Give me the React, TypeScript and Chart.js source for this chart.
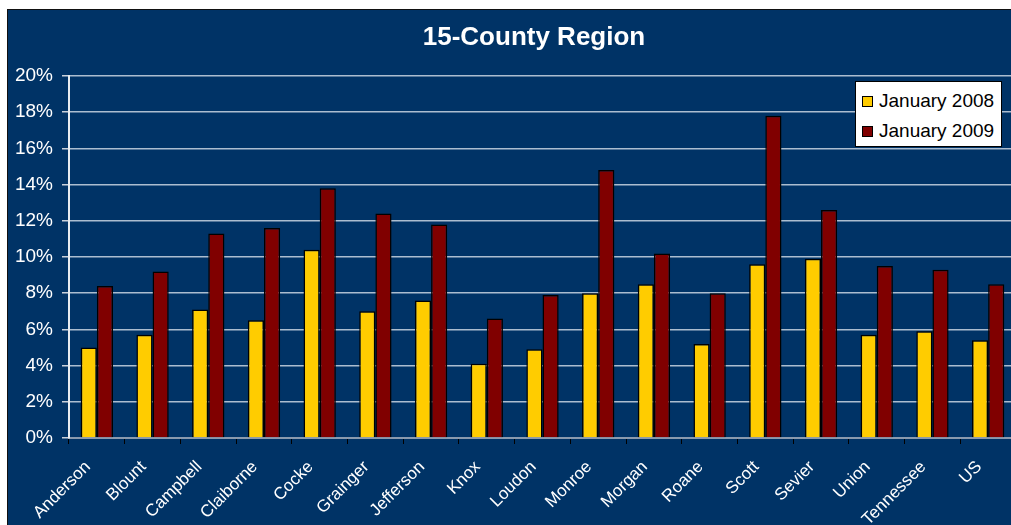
import React, { useEffect, useRef } from "react";
import { Chart, registerables } from "chart.js";

Chart.register(...registerables);

const categories = [
  "Anderson", "Blount", "Campbell", "Claiborne", "Cocke", "Grainger", "Jefferson",
  "Knox", "Loudon", "Monroe", "Morgan", "Roane", "Scott", "Sevier", "Union",
  "Tennessee", "US",
];
const jan2008 = [5.0, 5.7, 7.1, 6.5, 10.4, 7.0, 7.6, 4.1, 4.9, 8.0, 8.5, 5.2, 9.6, 9.9, 5.7, 5.9, 5.4];
const jan2009 = [8.4, 9.2, 11.3, 11.6, 13.8, 12.4, 11.8, 6.6, 7.9, 14.8, 10.2, 8.0, 17.8, 12.6, 9.5, 9.3, 8.5];
const seriesNames = ["January 2008", "January 2009"];
const seriesColors = ["#FFCC00", "#800000"];
const yTickMax = 20;
const yTickStep = 2;
const title = "15-County Region";

const FONT = "'Liberation Sans', Arial, sans-serif";
const NAVY = "#003366";

export default function App() {
  const ref = useRef<HTMLCanvasElement | null>(null);

  useEffect(() => {
    if (!ref.current) return;
    const chart = new Chart(ref.current, {
      type: "bar",
      data: {
        labels: categories,
        datasets: [
          {
            label: seriesNames[0],
            data: jan2008,
            backgroundColor: seriesColors[0],
            borderColor: "#000000",
            borderWidth: 1.5,
            barPercentage: 1,
            categoryPercentage: 0.58,
          },
          {
            label: seriesNames[1],
            data: jan2009,
            backgroundColor: seriesColors[1],
            borderColor: "#000000",
            borderWidth: 1.5,
            barPercentage: 1,
            categoryPercentage: 0.58,
          },
        ],
      },
      options: {
        responsive: false,
        animation: false,
        devicePixelRatio: 1,
        layout: { padding: { left: 0, right: 44, top: 66, bottom: 0 } },
        plugins: {
          legend: { display: false },
          tooltip: { enabled: false },
          title: { display: false },
        },
        scales: {
          x: {
            offset: true,
            grid: {
              display: true,
              offset: true,
              drawOnChartArea: false,
              drawTicks: true,
              tickLength: 6,
              tickColor: "#000000",
              tickWidth: 1,
            },
            border: { display: true, color: "#8A9AAE", width: 2 },
            ticks: {
              color: "#FFFFFF",
              font: { family: FONT, size: 17 },
              minRotation: 45,
              maxRotation: 45,
              autoSkip: false,
              padding: 13,
              labelOffset: -9,
            },
            afterFit: (scale: any) => {
              scale.height = 87;
            },
          },
          y: {
            min: 0,
            max: yTickMax,
            ticks: {
              stepSize: yTickStep,
              color: "#FFFFFF",
              font: { family: FONT, size: 19 },
              padding: 9,
              callback: (v: any) => v + "%",
            },
            grid: {
              color: "rgba(215,224,234,0.8)",
              lineWidth: 1.5,
              drawTicks: true,
              tickLength: 7,
              tickColor: "#C8D0DA",
              tickWidth: 1.5,
            },
            border: { display: true, color: "#E8ECF0", width: 2 },
            afterFit: (scale: any) => {
              scale.width = 61;
            },
          },
        },
      },
    });
    return () => chart.destroy();
  }, []);

  return (
    <div
      style={{
        position: "fixed",
        left: 0,
        top: 0,
        width: 1011,
        height: 525,
        background: "#FFFFFF",
        overflow: "hidden",
      }}
    >
      <div
        style={{
          position: "absolute",
          left: 7,
          top: 9,
          width: 1100,
          height: 600,
          background: NAVY,
          borderLeft: "1px solid #111",
          borderTop: "1px solid #111",
        }}
      />
      <canvas
        ref={ref}
        width={1052}
        height={515}
        style={{ position: "absolute", left: 8, top: 10, width: 1052, height: 515 }}
      />
      <div
        style={{
          position: "absolute",
          left: 334,
          width: 400,
          top: 20,
          height: 32,
          lineHeight: "32px",
          textAlign: "center",
          color: "#FFFFFF",
          fontFamily: FONT,
          fontWeight: "bold",
          fontSize: 26,
        }}
      >
        {title}
      </div>
      <div
        style={{
          position: "absolute",
          left: 855,
          top: 81,
          width: 145,
          height: 64,
          background: "#FFFFFF",
          border: "1px solid #000",
          fontFamily: FONT,
          fontSize: 19,
          color: "#000",
        }}
      >
        {seriesNames.map((name, i) => (
          <div
            key={name}
            style={{
              position: "absolute",
              left: 6,
              top: 8 + i * 30,
              height: 22,
              display: "flex",
              alignItems: "center",
              whiteSpace: "nowrap",
            }}
          >
            <span
              style={{
                display: "inline-block",
                width: 9,
                height: 9,
                background: seriesColors[i],
                border: "1px solid #000",
                marginRight: 6,
              }}
            />
            <span>{name}</span>
          </div>
        ))}
      </div>
    </div>
  );
}
